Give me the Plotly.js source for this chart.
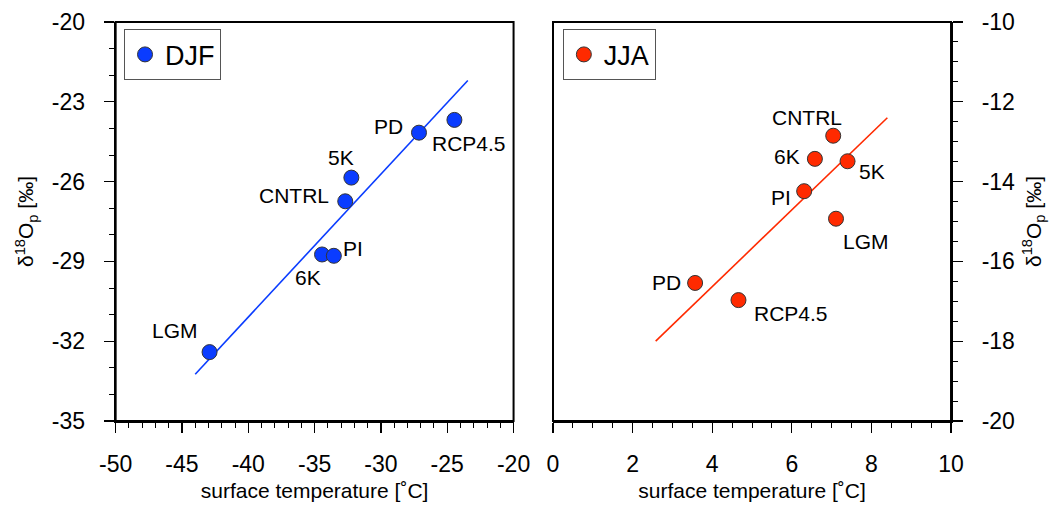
<!DOCTYPE html>
<html>
<head>
<meta charset="utf-8">
<script src="https://cdn.plot.ly/plotly-3.0.1.min.js"></script>
<style>html,body{margin:0;padding:0;background:#fff;}#chart{width:1060px;height:506px;}</style>
</head>
<body>
<div id="chart"></div>
<script>
// ---- data ----
const runLabels = ["LGM", "6K", "PI", "CNTRL", "5K", "PD", "RCP4.5"];
const djfTemp = [-42.92, -34.44, -33.55, -32.69, -32.23, -27.13, -24.46];
const djfD18O = [-32.41, -28.74, -28.79, -26.74, -25.85, -24.16, -23.68];
const djfFitX = [-44.0, -23.45];
const djfFitY = [-33.24, -22.2];

const jjaLabels = ["LGM", "6K", "PI", "CNTRL", "5K", "PD", "RCP4.5"];
const jjaTemp = [7.11, 6.58, 6.31, 7.04, 7.40, 3.57, 4.66];
const jjaD18O = [-14.93, -13.43, -14.24, -12.85, -13.49, -16.54, -16.97];
const jjaFitX = [2.58, 8.40];
const jjaFitY = [-18.0, -12.40];

// ---- tick values / labels ----
const djfXTicks = [-50, -45, -40, -35, -30, -25, -20];
const djfXTickText = ["-50", "-45", "-40", "-35", "-30", "-25", "-20"];
const djfYTicks = [-35, -32, -29, -26, -23, -20];
const djfYTickText = ["-35", "-32", "-29", "-26", "-23", "-20"];
const jjaXTicks = [0, 2, 4, 6, 8, 10];
const jjaXTickText = ["0", "2", "4", "6", "8", "10"];
const jjaYTicks = [-20, -18, -16, -14, -12, -10];
const jjaYTickText = ["-20", "-18", "-16", "-14", "-12", "-10"];

// ---- label placement (pixel offsets from each point) ----
const djfLabelDX = [-35, -14, 19, -51, -10, -30, 15];
const djfLabelDY = [22, -23, 7, 6, 20, 6, -24];
const jjaLabelDX = [30, -28, -23, -26, 24, -29, 53];
const jjaLabelDY = [-23, 2, -6, 18, -10, 0, -13];

const FONT = "Liberation Sans, Arial, Helvetica, sans-serif";
const BLUE = "#0a3cff";
const RED = "#ff2a00";

const traces = [
  {x: djfFitX, y: djfFitY, mode: "lines", line: {color: BLUE, width: 1.6},
   xaxis: "x", yaxis: "y", showlegend: false, hoverinfo: "skip"},
  {x: djfTemp, y: djfD18O, mode: "markers", name: "DJF", legend: "legend",
   marker: {color: BLUE, size: 15, line: {color: "#333", width: 1}},
   xaxis: "x", yaxis: "y"},
  {x: jjaFitX, y: jjaFitY, mode: "lines", line: {color: RED, width: 1.6},
   xaxis: "x2", yaxis: "y2", showlegend: false, hoverinfo: "skip"},
  {x: jjaTemp, y: jjaD18O, mode: "markers", name: "JJA", legend: "legend2",
   marker: {color: RED, size: 15, line: {color: "#333", width: 1}},
   xaxis: "x2", yaxis: "y2"}
];

const annotations = [];
runLabels.forEach((t, i) => annotations.push({
  x: djfTemp[i], y: djfD18O[i], xref: "x", yref: "y", text: t, showarrow: false,
  xshift: djfLabelDX[i], yshift: djfLabelDY[i], font: {family: FONT, size: 21, color: "#000"}
}));
jjaLabels.forEach((t, i) => annotations.push({
  x: jjaTemp[i], y: jjaD18O[i], xref: "x2", yref: "y2", text: t, showarrow: false,
  xshift: jjaLabelDX[i], yshift: jjaLabelDY[i], font: {family: FONT, size: 21, color: "#000"}
}));

const frames = [
  {type: "rect", xref: "x domain", yref: "y domain", x0: 0, x1: 1, y0: 0, y1: 1,
   line: {color: "#000", width: 2}, fillcolor: "rgba(0,0,0,0)", layer: "above"},
  {type: "rect", xref: "x2 domain", yref: "y2 domain", x0: 0, x1: 1, y0: 0, y1: 1,
   line: {color: "#000", width: 2}, fillcolor: "rgba(0,0,0,0)", layer: "above"}
];

const axisCommon = {
  showline: true, linecolor: "#000", linewidth: 2, mirror: false,
  showgrid: false, zeroline: false, ticks: "outside", ticklen: 10, tickwidth: 1.2,
  tickcolor: "#000", tickfont: {family: FONT, size: 23, color: "#000"},
  ticklabelstandoff: 14, automargin: false, tickmode: "array"
};
const ytitle = "δ<sup>18</sup>O<sub>p</sub> [‰]";
const xtitle = "surface temperature [˚C]";

const layout = {
  width: 1060, height: 506,
  margin: {l: 0, r: 0, t: 0, b: 0},
  paper_bgcolor: "#fff", plot_bgcolor: "#fff",
  font: {family: FONT, color: "#000"},
  xaxis: Object.assign({}, axisCommon, {
    domain: [0.1091, 0.4845], range: [-50, -20], tickvals: djfXTicks, ticktext: djfXTickText,
    ticklabelstandoff: 11,
    minor: {dtick: 1, tick0: -50, ticks: "outside", ticklen: 5, tickwidth: 1, tickcolor: "#000"},
    title: {text: xtitle, font: {family: FONT, size: 21}, standoff: 8}
  }),
  yaxis: Object.assign({}, axisCommon, {
    domain: [0.168, 0.9565], range: [-35, -20], tickvals: djfYTicks, ticktext: djfYTickText,
    minor: {dtick: 1, tick0: -35, ticks: "outside", ticklen: 5, tickwidth: 1, tickcolor: "#000"},
    title: {text: ytitle, font: {family: FONT, size: 21}, standoff: 12}
  }),
  xaxis2: Object.assign({}, axisCommon, {
    anchor: "y2", domain: [0.5217, 0.8972], range: [0, 10], tickvals: jjaXTicks, ticktext: jjaXTickText,
    ticklabelstandoff: 11,
    minor: {dtick: 0.5, tick0: 0, ticks: "outside", ticklen: 5, tickwidth: 1, tickcolor: "#000"},
    title: {text: xtitle, font: {family: FONT, size: 21}, standoff: 8}
  }),
  yaxis2: Object.assign({}, axisCommon, {
    anchor: "x2", side: "right", domain: [0.168, 0.9565], range: [-20, -10], tickvals: jjaYTicks, ticktext: jjaYTickText,
    minor: {dtick: 0.5, tick0: -20, ticks: "outside", ticklen: 5, tickwidth: 1, tickcolor: "#000"},
    title: {text: ytitle, font: {family: FONT, size: 21}, standoff: 12}
  }),
  legend: {x: 0.117, y: 0.942, xanchor: "left", yanchor: "top",
    bordercolor: "#555", borderwidth: 1, bgcolor: "#fff",
    font: {family: FONT, size: 27, color: "#000"}, itemwidth: 30},
  legend2: {x: 0.531, y: 0.942, xanchor: "left", yanchor: "top",
    bordercolor: "#555", borderwidth: 1, bgcolor: "#fff",
    font: {family: FONT, size: 27, color: "#000"}, itemwidth: 30},
  annotations: annotations,
  shapes: frames,
  showlegend: true
};

Plotly.newPlot("chart", traces, layout, {displayModeBar: false, staticPlot: true});
</script>
</body>
</html>
